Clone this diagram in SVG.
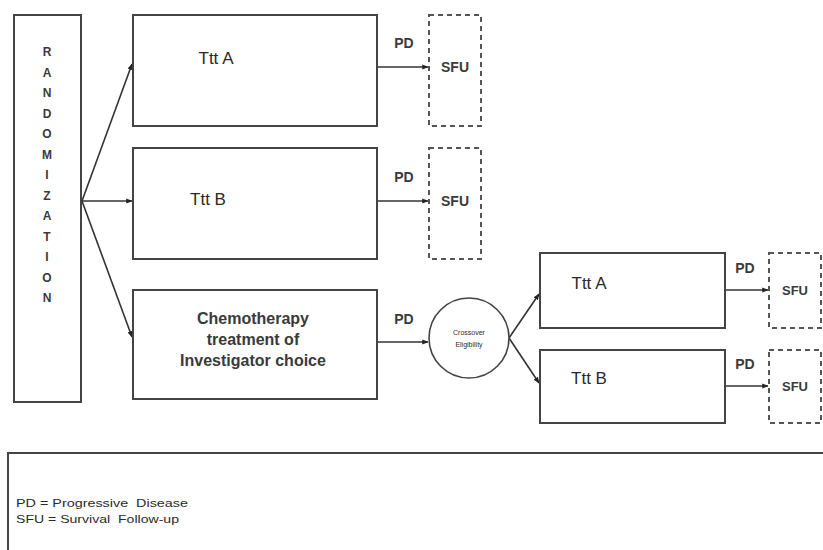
<svg xmlns="http://www.w3.org/2000/svg" width="823" height="550" viewBox="0 0 823 550">
<style>
.box{fill:#fff;stroke:#444;stroke-width:2}
.dash{fill:#fff;stroke:#555;stroke-width:2;stroke-dasharray:5,4}
.ln{fill:none;stroke:#333;stroke-width:1.6}
.b{font-family:"Liberation Sans",Arial,sans-serif;font-weight:bold;fill:#3a3a3a}
.r{font-family:"Liberation Sans",Arial,sans-serif;fill:#2a2a2a}
</style>
<defs>
<marker id="ah" viewBox="0 0 10 10" refX="9" refY="5" markerWidth="4" markerHeight="4" orient="auto">
<path d="M0,1 L10,5 L0,9 z" fill="#222"/>
</marker>
</defs>
<rect width="823" height="550" fill="#fff"/>
<g id="connectors">
<line class="ln" x1="82" y1="201" x2="132" y2="64" marker-end="url(#ah)"/>
<line class="ln" x1="82" y1="201" x2="132" y2="201" marker-end="url(#ah)"/>
<line class="ln" x1="82" y1="201" x2="132" y2="337" marker-end="url(#ah)"/>
<line class="ln" x1="377" y1="67" x2="428" y2="67" marker-end="url(#ah)"/>
<line class="ln" x1="377" y1="201" x2="428" y2="201" marker-end="url(#ah)"/>
<line class="ln" x1="377" y1="342" x2="428" y2="342" marker-end="url(#ah)"/>
<line class="ln" x1="509" y1="338" x2="539" y2="294" marker-end="url(#ah)"/>
<line class="ln" x1="509" y1="338" x2="539" y2="383" marker-end="url(#ah)"/>
<line class="ln" x1="725" y1="290" x2="768" y2="290" marker-end="url(#ah)"/>
<line class="ln" x1="725" y1="386" x2="768" y2="386" marker-end="url(#ah)"/>
<text class="b" x="404" y="48" font-size="14" text-anchor="middle">PD</text>
<text class="b" x="404" y="182" font-size="14" text-anchor="middle">PD</text>
<text class="b" x="404" y="324" font-size="14" text-anchor="middle">PD</text>
<text class="b" x="745" y="273" font-size="14" text-anchor="middle">PD</text>
<text class="b" x="745" y="369" font-size="14" text-anchor="middle">PD</text>
</g>
<g id="randomization">
<rect class="box" x="14" y="15" width="67" height="387"/>
<g class="b" font-size="12" text-anchor="middle">
<text x="47" y="56">R</text>
<text x="47" y="76.5">A</text>
<text x="47" y="97">N</text>
<text x="47" y="117.5">D</text>
<text x="47" y="138">O</text>
<text x="47" y="158.5">M</text>
<text x="47" y="179">I</text>
<text x="47" y="199.5">Z</text>
<text x="47" y="220">A</text>
<text x="47" y="240.5">T</text>
<text x="47" y="261">I</text>
<text x="47" y="281.5">O</text>
<text x="47" y="302">N</text>
</g>
</g>
<g id="tttA">
<rect class="box" x="133" y="15" width="244" height="111"/>
<text class="r" x="216" y="64" font-size="17" text-anchor="middle">Ttt A</text>
</g>
<g id="tttB">
<rect class="box" x="133" y="148" width="244" height="111"/>
<text class="r" x="208" y="205" font-size="17" text-anchor="middle">Ttt B</text>
</g>
<g id="chemo">
<rect class="box" x="133" y="290" width="244" height="109"/>
<g class="b" font-size="16" text-anchor="middle">
<text x="253" y="324">Chemotherapy</text>
<text x="253" y="345">treatment of</text>
<text x="253" y="366">Investigator choice</text>
</g>
</g>
<g id="sfu1">
<rect class="dash" x="429" y="15" width="52" height="111"/>
<text class="b" x="455" y="72" font-size="14" text-anchor="middle">SFU</text>
</g>
<g id="sfu2">
<rect class="dash" x="429" y="148" width="52" height="111"/>
<text class="b" x="455" y="206" font-size="14" text-anchor="middle">SFU</text>
</g>
<g id="crossover">
<circle cx="469" cy="338" r="40" fill="#fff" stroke="#444" stroke-width="1.6"/>
<g class="r" font-size="7" text-anchor="middle" fill="#555">
<text x="469" y="335">Crossover</text>
<text x="469" y="347">Eligibility</text>
</g>
</g>
<g id="tttA2">
<rect class="box" x="540" y="253" width="185" height="75"/>
<text class="r" x="589" y="289" font-size="17" text-anchor="middle">Ttt A</text>
</g>
<g id="tttB2">
<rect class="box" x="540" y="350" width="185" height="73"/>
<text class="r" x="589" y="384" font-size="17" text-anchor="middle">Ttt B</text>
</g>
<g id="sfu3">
<rect class="dash" x="769" y="253" width="52" height="75"/>
<text class="b" x="795" y="295" font-size="13" text-anchor="middle">SFU</text>
</g>
<g id="sfu4">
<rect class="dash" x="769" y="350" width="52" height="73"/>
<text class="b" x="795" y="391" font-size="13" text-anchor="middle">SFU</text>
</g>
<g id="legend">
<rect class="box" x="8" y="453" width="840" height="120"/>
<g class="r" font-size="11" fill="#444" style="white-space:pre">
<text x="16" y="507" xml:space="preserve" textLength="172" lengthAdjust="spacingAndGlyphs">PD = Progressive  Disease</text>
<text x="16" y="523" xml:space="preserve" textLength="163" lengthAdjust="spacingAndGlyphs">SFU = Survival  Follow-up</text>
</g>
</g>
</svg>
